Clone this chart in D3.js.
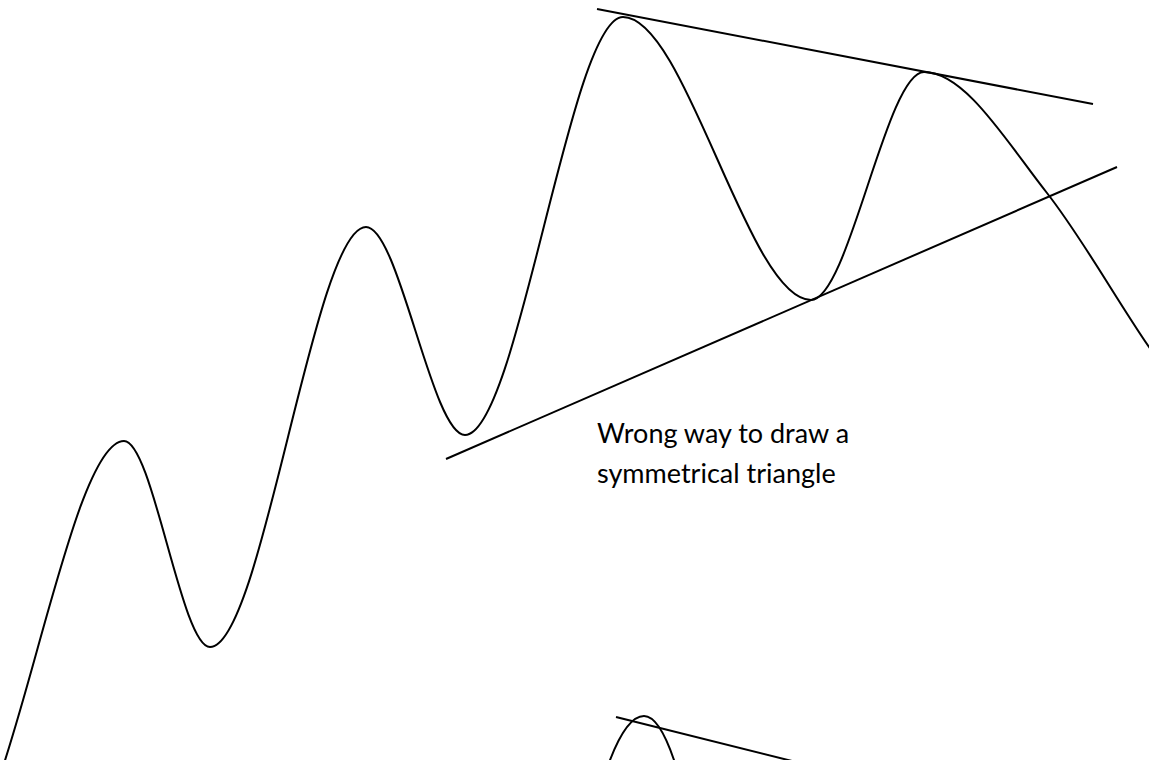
<!DOCTYPE html>
<html>
<head>
<meta charset="utf-8">
<script src="https://cdn.jsdelivr.net/npm/d3@7"></script>
<style>
  html, body { margin: 0; padding: 0; background: #fff; overflow: hidden; }
  .note { font-family: Lato, "Open Sans", sans-serif; font-size: 27px; fill: #000; }
</style>
</head>
<body>
<div class="chart"></div>
<script>
// turning points of the price path (time, price); price 0 = bottom edge
var wavePoints = [
  [-150, 320], [-50, -100], [124, 319], [210, 113], [366, 533],
  [465, 325], [623, 743], [811, 460], [924, 688], [1047, 567],
  [1149, 413], [1200, 340]
];

// second small wave at the bottom (mostly cut off by the frame)
var smallWavePoints = [
  [590, -100], [610, 0], [644, 44], [674, 0], [692, -100]
];

// trend lines [start, end]
var upperLine = [[597, 751], [1093, 656]];
var lowerLine = [[446, 301], [1117, 593]];
var smallLine = [[616, 43], [800, -3]];

var noteLines = ['Wrong way to draw a', 'symmetrical triangle'];
var notePos = [597, 317];

var svgWidth = 1149;
var svgHeight = 760;

var svg = d3.select('.chart')
    .append('svg')
    .attr('width', svgWidth)
    .attr('height', svgHeight);

var x = d3.scaleLinear().domain([0, 1149]).range([0, svgWidth]);
var y = d3.scaleLinear().domain([0, 760]).range([svgHeight, 0]);

var line = d3.line()
    .x(function(d) { return x(d[0]); })
    .y(function(d) { return y(d[1]); })
    .curve(d3.curveMonotoneX);

var straight = d3.line()
    .x(function(d) { return x(d[0]); })
    .y(function(d) { return y(d[1]); });

svg.append('path')
    .datum(wavePoints)
    .attr('d', line)
    .attr('fill', 'none')
    .attr('stroke', '#000')
    .attr('stroke-width', 2);

svg.append('path')
    .datum(smallWavePoints)
    .attr('d', line)
    .attr('fill', 'none')
    .attr('stroke', '#000')
    .attr('stroke-width', 2);

svg.selectAll('.trend')
    .data([upperLine, lowerLine, smallLine])
    .enter()
    .append('path')
    .attr('class', 'trend')
    .attr('d', straight)
    .attr('fill', 'none')
    .attr('stroke', '#000')
    .attr('stroke-width', 2);

svg.selectAll('.note')
    .data(noteLines)
    .enter()
    .append('text')
    .attr('class', 'note')
    .attr('x', x(notePos[0]))
    .attr('y', function(d, i) { return y(notePos[1]) + i * 40; })
    .text(function(d) { return d; });
</script>
</body>
</html>
